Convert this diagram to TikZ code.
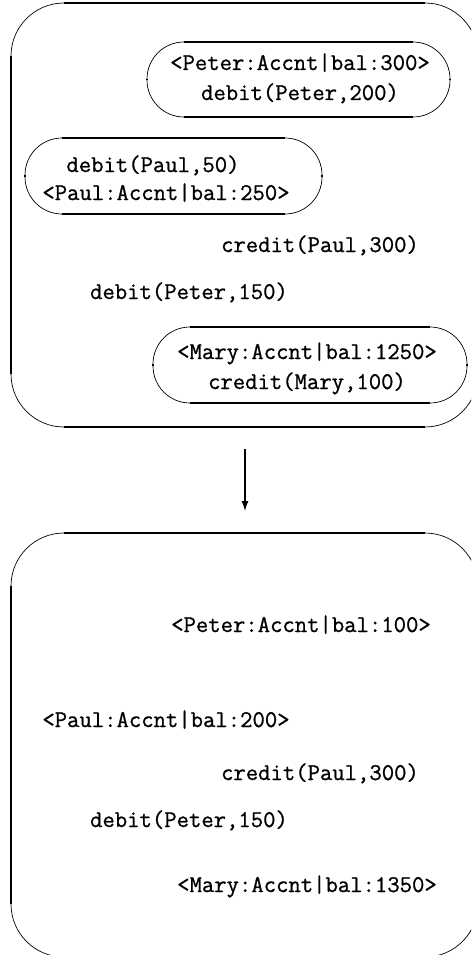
\documentclass[tikz,border=0pt]{standalone}
\usepackage{fontspec}
\usetikzlibrary{arrows.meta}
\newfontfamily\labelfont{Latin Modern Mono}[FakeBold=0.9]
\tikzset{
  hrule/.style={line width=1.9pt},
  vrule/.style={line width=1.3pt},
  arcrule/.style={line width=0.7pt},
  label/.style={anchor=base,inner sep=0pt,font=\fontsize{24}{28}\selectfont\labelfont},
  flow/.style={line width=1.3pt,-{Latex[length=10pt,width=7pt]}}
}
% rounded frame: left x, top y, right x, bottom y, corner radius (y measured downward)
\newcommand\roundframe[5]{%
  \draw[hrule] ({#1+#5},{-(#2)}) -- ({#3-#5},{-(#2)});
  \draw[hrule] ({#1+#5},{-(#4)}) -- ({#3-#5},{-(#4)});
  \draw[vrule] (#1,{-(#2)-#5}) -- (#1,{-(#4)+#5});
  \draw[vrule] (#3,{-(#2)-#5}) -- (#3,{-(#4)+#5});
  \draw[arcrule] ({#1+#5},{-(#2)}) arc[start angle=90,end angle=180,radius=#5];
  \draw[arcrule] (#1,{-(#4)+#5}) arc[start angle=180,end angle=270,radius=#5];
  \draw[arcrule] ({#3-#5},{-(#4)}) arc[start angle=270,end angle=360,radius=#5];
  \draw[arcrule] (#3,{-(#2)-#5}) arc[start angle=0,end angle=90,radius=#5];
}
\begin{document}
\begin{tikzpicture}[x=1pt,y=1pt]
  \useasboundingbox (0,0) rectangle (471,-955);
  \clip (0,0) rectangle (471,-955);

  % state before the step
  \roundframe{11}{3}{478}{427}{53}
  \roundframe{147}{42}{450}{117}{37}
  \roundframe{25}{138}{322}{214}{37}
  \roundframe{153}{327}{467}{403}{37}

  \node[label] (peterA) at (300,-70) {<Peter:Accnt|bal:300>};
  \node[label] (peterOp) at (300,-100) {debit(Peter,200)};
  \node[label] (paulOp) at (153,-172) {debit(Paul,50)};
  \node[label] (paulA) at (166,-200) {<Paul:Accnt|bal:250>};
  \node[label] (creditA) at (320,-252) {credit(Paul,300)};
  \node[label] (debitA) at (189,-299) {debit(Peter,150)};
  \node[label] (maryA) at (307,-359) {<Mary:Accnt|bal:1250>};
  \node[label] (maryOp) at (307,-389) {credit(Mary,100)};

  % transition
  \coordinate (stepfrom) at (245,-449);
  \coordinate (stepto) at (245,-511);
  \draw[flow] (stepfrom) -- (stepto);

  % state after the step
  \roundframe{11}{533}{478}{957}{53}

  \node[label] (peterB) at (301,-632) {<Peter:Accnt|bal:100>};
  \node[label] (paulB) at (166,-727) {<Paul:Accnt|bal:200>};
  \node[label] (creditB) at (320,-780) {credit(Paul,300)};
  \node[label] (debitB) at (189,-827) {debit(Peter,150)};
  \node[label] (maryB) at (307,-892) {<Mary:Accnt|bal:1350>};
\end{tikzpicture}
\end{document}
